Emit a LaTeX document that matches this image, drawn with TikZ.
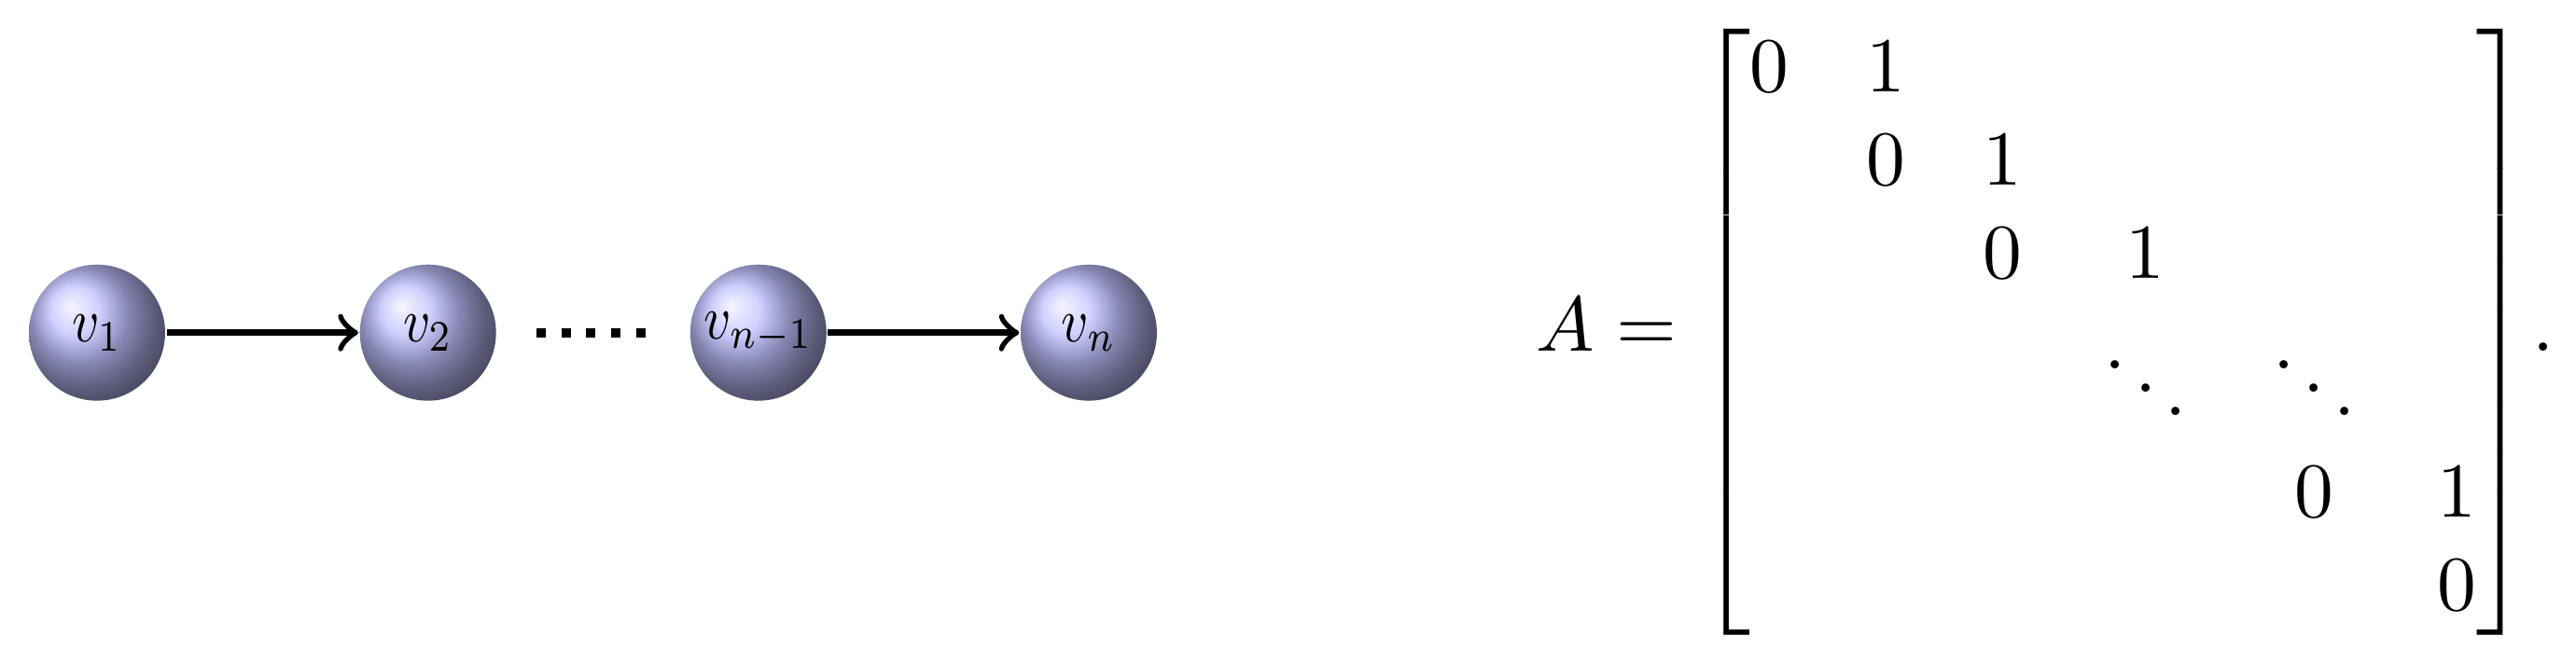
\documentclass[tikz,border=0pt]{standalone}
\usepackage{amsmath}
\usepackage{graphicx}
\newcommand{\balltext}[1]{\scalebox{0.68}[0.8]{$#1$}}
\begin{document}
\begin{tikzpicture}[x=1pt,y=1pt,
  vball/.style={circle, ball color=blue!25, minimum size=17.5pt, inner sep=0pt},
  edgearrow/.style={->, thick},
  gapdots/.style={very thick, dotted, shorten <=5pt, shorten >=5pt}]
\useasboundingbox (0,0) rectangle (331.06,85.37);
\node[vball] (v1)  at (12.47,42.6)  {\balltext{v_1}};
\node[vball] (v2)  at (55.0,42.6)   {\balltext{v_2}};
\node[vball] (vn1) at (97.46,42.6)  {\balltext{v_{n-1}}};
\node[vball] (vn)  at (139.93,42.6) {\balltext{v_n}};
\draw[edgearrow] (v1) -- (v2);
\draw[gapdots] (v2) -- (vn1);
\draw[edgearrow] (vn1) -- (vn);
\node[anchor=base west, inner sep=0pt] (mat) at (197.2,40.17)
  {$A = \begin{bmatrix}
  0 & 1 & & & & \\
  & 0 & 1 & & & \\
  & & 0 & 1 & & \\
  & & & \ddots & \ddots & \\
  & & & & 0 & 1 \\
  & & & & & 0
  \end{bmatrix}\mkern-2mu.$};
\end{tikzpicture}
\end{document}
